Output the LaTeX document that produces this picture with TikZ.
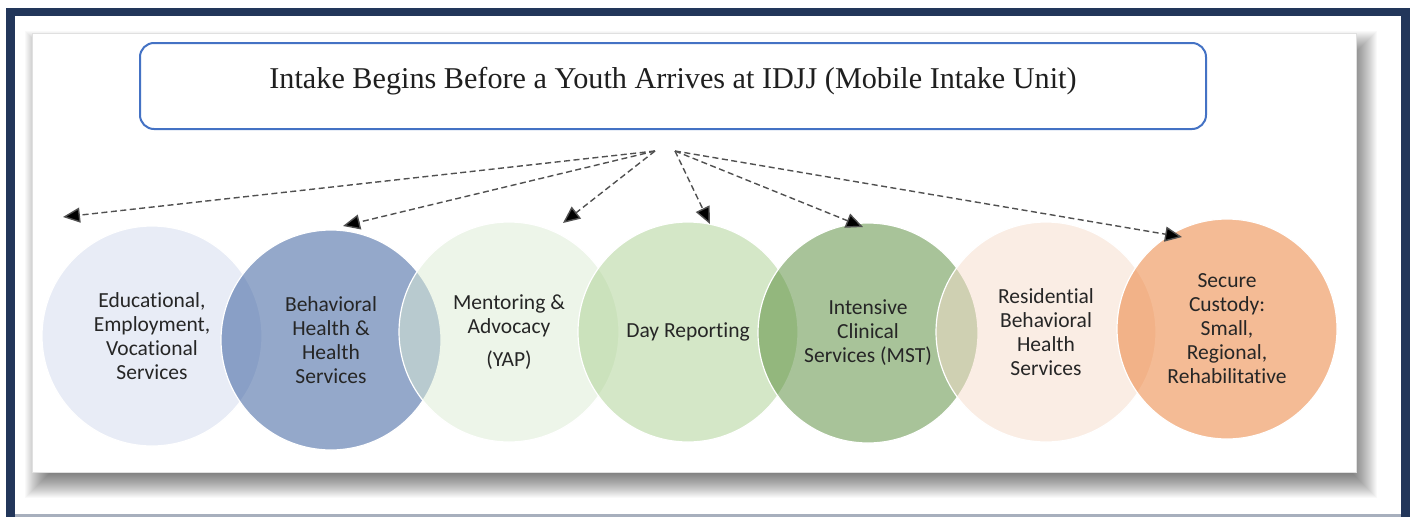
\documentclass[tikz,border=0pt]{standalone}
\usepackage{fontspec}
\setmainfont{Liberation Serif}
\setsansfont{Carlito}[Ligatures=NoCommon]
\usetikzlibrary{arrows.meta}

\definecolor{framenavy}{RGB}{34,54,90}
\definecolor{titleblue}{RGB}{68,114,196}
\definecolor{feedgray}{RGB}{80,80,80}
\definecolor{vennA}{RGB}{211,219,239}
\definecolor{vennB}{RGB}{43,83,151}
\definecolor{vennC}{RGB}{221,237,213}
\definecolor{vennD}{RGB}{171,209,145}
\definecolor{vennE}{RGB}{83,137,53}
\definecolor{vennF}{RGB}{247,221,203}
\definecolor{vennG}{RGB}{235,121,45}

\tikzset{
    titlebox/.style={draw=titleblue, line width=2pt, rounded corners=14pt, fill=white,
        minimum width=1066pt, minimum height=86pt, inner sep=0pt,
        text height=20pt, text depth=16pt, text=black!88, font=\fontsize{30.2}{36}\selectfont},
    venn/.style={circle, minimum size=220pt, inner sep=0pt, draw=white, line width=1.2pt,
        fill opacity=0.5, text opacity=1, align=center, text=black!85,
        font=\sffamily\fontsize{21.5}{24}\selectfont},
    feed/.style={draw=feedgray, line width=1.4pt, dash pattern=on 6pt off 3.5pt,
        -{Triangle[length=17pt,width=15pt,fill=black]}}
}

\begin{document}
\begin{tikzpicture}[x=1pt,y=-1pt]
    \useasboundingbox (0,0) rectangle (1412,517);
    % Frame
    \fill[white] (0,0) rectangle (1412,517);
    \fill[framenavy] (6,8) rectangle (1410,517);
    \fill[white] (15,16) rectangle (1401,514);
    \fill[framenavy!40] (15,514) rectangle (1401,517);

    % Panel and its shadow
    \foreach \e in {-14,...,14} \fill[black, opacity=0.025] ({39-\e},{45-\e}) rectangle ({1363+\e},{484+\e});
    \fill[white] (32,33) rectangle (1356,472);
    \draw[black!12, line width=0.8pt] (32,33) rectangle (1356,472);

    % Title
    \node[titlebox] (title) at (673,86) {Intake Begins Before a Youth Arrives at IDJJ (Mobile Intake Unit)};

    % Circles
    \node[venn, fill=vennA] (edu) at (152,336) {Educational,\\ Employment,\\ Vocational\\ Services};
    \node[venn, fill=vennB] (health) at (331,340) {Behavioral\\ Health \&\\ Health\\ Services};
    \node[venn, fill=vennC] (yap) at (509,332) {Mentoring \&\\ Advocacy\\[9pt] (YAP)};
    \node[venn, fill=vennD] (day) at (688,332) {Day Reporting};
    \node[venn, fill=vennE] (mst) at (868,333) {Intensive\\ Clinical\\ Services (MST)};
    \node[venn, fill=vennF] (resid) at (1046,332) {Residential\\ Behavioral\\ Health\\ Services};
    \node[venn, fill=vennG] (secure) at (1227,329) {Secure\\ Custody:\\ Small,\\ Regional,\\ Rehabilitative};

    % Arrows
    \coordinate (hubL) at (655,151);
    \coordinate (hubR) at (675,151);
    \coordinate (tipEdu) at (63,217);
    \coordinate (tipHealth) at (343,226);
    \coordinate (tipYap) at (563,223);
    \coordinate (tipDay) at (710,224);
    \coordinate (tipMst) at (863,227);
    \coordinate (tipSecure) at (1182,237);
    \foreach \t in {tipEdu,tipHealth,tipYap} \draw[feed] (hubL) -- (\t);
    \foreach \t in {tipDay,tipMst,tipSecure} \draw[feed] (hubR) -- (\t);
\end{tikzpicture}
\end{document}
